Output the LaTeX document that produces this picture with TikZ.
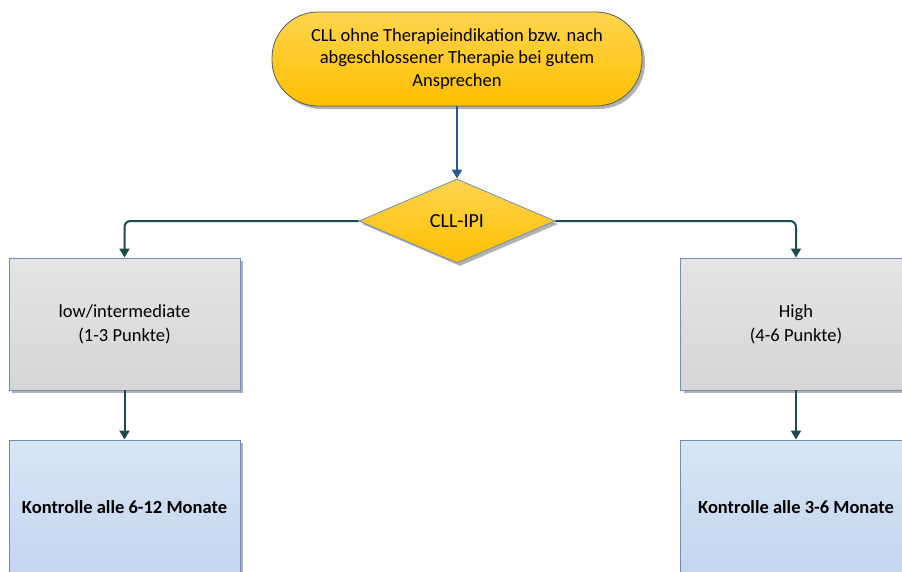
\documentclass[tikz,border=0pt]{standalone}
\usepackage{fontspec}
\setmainfont{Carlito}
\usetikzlibrary{shapes.geometric,shadows,arrows.meta}
\definecolor{ytop}{HTML}{FFD54F}
\definecolor{ybot}{HTML}{FFBF00}
\definecolor{gtop}{HTML}{E4E4E4}
\definecolor{gbot}{HTML}{D6D6D6}
\definecolor{btop}{HTML}{D8E5F4}
\definecolor{bbot}{HTML}{C3D6EE}
\definecolor{bord}{HTML}{6F8DBA}
\definecolor{darkb}{HTML}{555A60}
\definecolor{arrblue}{HTML}{2D5592}
\definecolor{arrteal}{HTML}{1D4A4C}
\tikzset{
  x=1pt, y=-1pt,
  shad/.style={drop shadow={shadow xshift=3pt, shadow yshift=-3pt, fill=black, opacity=0.3}},
  term/.style={shad, draw=darkb, line width=0.8pt, top color=ytop, bottom color=ybot,
    rounded corners=46pt, minimum width=370pt, minimum height=94pt, align=center,
    font=\fontsize{18.5}{22.5}\selectfont, inner sep=0pt},
  dec/.style={shad, diamond, draw=bord, line width=0.8pt, top color=ytop, bottom color=ybot,
    minimum width=196pt, minimum height=84pt, aspect=2.33, inner sep=0pt,
    font=\fontsize{20}{24}\selectfont},
  graybox/.style={shad, draw=bord, line width=0.9pt, top color=gtop, bottom color=gbot,
    minimum width=231pt, minimum height=132pt, align=center,
    font=\fontsize{18.5}{24}\selectfont, inner sep=0pt},
  bluebox/.style={shad, draw=bord, line width=0.9pt, top color=btop, bottom color=bbot,
    minimum width=231pt, minimum height=134pt, align=center,
    font=\fontsize{18.5}{22}\selectfont\bfseries, inner sep=0pt},
  arrb/.style={draw=arrblue, line width=2pt, -{Triangle[width=10pt,length=9pt]}},
  arrt/.style={draw=arrteal, line width=2pt, rounded corners=6pt, -{Triangle[width=10pt,length=9pt]}}
}
\begin{document}
\begin{tikzpicture}
\useasboundingbox (0,0) rectangle (902,571);
\clip (0,0) rectangle (902,571);
\node[term] (start) at (457,59) {CLL ohne Therapieindikation bzw. nach\\abgeschlossener Therapie bei gutem\\Ansprechen};
\node[dec] (ipi) at (457,221) {CLL-IPI};
\node[graybox] (low) at (124.5,324) {low/intermediate\\(1-3 Punkte)};
\node[graybox] (high) at (796,324) {High\\(4-6 Punkte)};
\node[bluebox] (kl) at (124.5,507) {Kontrolle alle 6-12 Monate};
\node[bluebox] (kh) at (796,507) {Kontrolle alle 3-6 Monate};
\draw[arrb] (start.south) -- (ipi.north);
\draw[arrt] (ipi.west) -| (low.north);
\draw[arrt] (ipi.east) -| (high.north);
\draw[arrt] (low.south) -- (kl.north);
\draw[arrt] (high.south) -- (kh.north);
\end{tikzpicture}
\end{document}
